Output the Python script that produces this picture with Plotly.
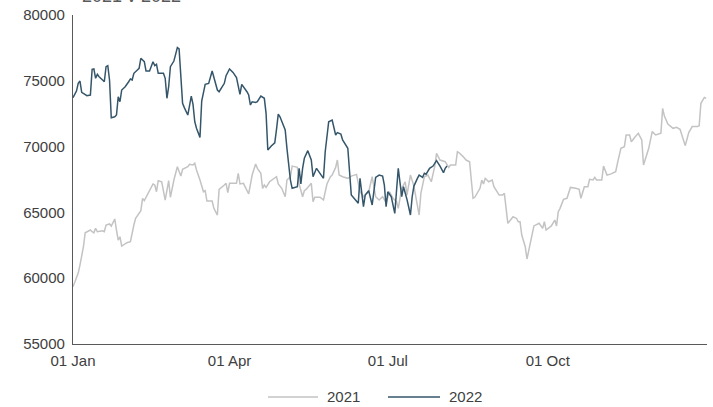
import pandas as pd
import plotly.graph_objects as go

# Day-of-year offsets (0 = 01 Jan) and values
days_2021 = [0, 3, 4, 6, 7, 10, 11, 12, 13, 14, 17, 18, 19, 21, 22, 24, 25, 26, 27, 28,
             31, 33, 35, 36, 39, 40, 41, 44, 46, 47, 48, 49, 51, 53, 55, 56, 58, 60, 62, 63,
             66, 67, 69, 70, 71, 73, 75, 76, 77, 80, 81, 83, 84, 87, 88, 89, 90, 94, 95, 96,
             98, 101, 103, 105, 106, 108, 109, 110, 111, 113, 117, 118, 120, 122, 123, 125, 126, 129, 130, 132,
             133, 134, 137, 138, 139, 142, 144, 146, 148, 149, 151, 152, 153, 155, 158, 160, 162, 163, 165, 167,
             169, 170, 172, 174, 176, 178, 180, 182, 184, 186, 187, 189, 191, 192, 194, 196, 199, 200, 202, 204,
             206, 208, 209, 211, 214, 216, 217, 220, 221, 222, 224, 226, 228, 229, 230, 231, 234, 235, 236, 237,
             239, 241, 242, 245, 247, 248, 250, 253, 255, 256, 257, 258, 260, 261, 263, 265, 268, 270, 271, 272,
             275, 277, 278, 279, 280, 282, 284, 286, 289, 291, 292, 294, 296, 297, 299, 300, 301, 304, 305, 307,
             309, 312, 313, 315, 317, 318, 320, 321, 323, 325, 327, 328, 331, 333, 335, 338, 339, 340, 342, 345,
             347, 349, 352, 354, 356, 359, 360, 361, 363, 364]
values_2021 = [59350, 60390, 61000, 62390, 63450, 63660, 63530, 63450, 63790, 63530, 63600, 63530, 64040, 64120, 63960, 64500, 63660, 62900, 63150, 62440,
               62700, 62770, 64040, 64550, 65130, 66070, 65890, 66700, 67160, 67080, 66570, 67410, 67330, 65940, 67410, 66150, 67460, 68470, 67760, 68270,
               68470, 68650, 68600, 68730, 68220, 67460, 66570, 66650, 65860, 65860, 65310, 64800, 66750, 67080, 67210, 66500, 67210, 67210, 67970, 67160,
               67210, 66400, 67840, 68680, 68350, 67970, 66830, 67080, 66900, 67330, 67710, 67160, 66830, 66190, 67460, 67710, 68520, 68420, 67160, 66190,
               66650, 66750, 67210, 65810, 66150, 66150, 65940, 67160, 67710, 67840, 68420, 68980, 67840, 67710, 67590, 67760, 67840, 67890, 66570, 66190,
               66450, 66570, 67710, 66190, 65940, 66190, 65740, 66570, 66070, 65810, 65310, 66830, 67330, 66320, 67840, 67000, 64800, 66450, 67710, 67840,
               67330, 68520, 69490, 68980, 68850, 68420, 68600, 68600, 69610, 69530, 69280, 68980, 68850, 67460, 66070, 66150, 66830, 67460, 67160, 67590,
               67330, 67460, 66950, 66320, 66320, 66450, 64170, 64670, 64540, 64290, 64290, 63280, 62390, 61460, 62650, 63970, 64170, 63790, 64290, 63660,
               63970, 64420, 63970, 65050, 65310, 65990, 66070, 66900, 66830, 66750, 66070, 66950, 66950, 67510, 67460, 67660, 67460, 67460, 68520, 67840,
               67910, 68090, 68730, 69870, 69990, 70880, 70880, 70370, 70710, 71010, 70500, 68600, 69870, 71140, 70880, 71010, 72910, 72320, 71720, 71390,
               71470, 71310, 70070, 71060, 71520, 71520, 71590, 73290, 73740, 73670]

days_2022 = [0, 2, 3, 4, 5, 7, 8, 10, 11, 12, 13, 14, 15, 17, 18, 19, 20, 21, 22, 24,
             25, 26, 27, 28, 30, 32, 33, 34, 35, 37, 38, 39, 41, 42, 44, 46, 47, 48, 49, 52,
             53, 54, 55, 56, 58, 59, 60, 61, 62, 63, 64, 66, 68, 69, 70, 71, 73, 74, 76, 78,
             80, 82, 83, 84, 87, 88, 90, 92, 94, 96, 97, 100, 101, 102, 103, 105, 106, 108, 110, 111,
             112, 114, 116, 117, 118, 119, 122, 123, 124, 125, 126, 129, 130, 131, 132, 133, 135, 137, 138, 140,
             144, 145, 147, 149, 151, 152, 154, 155, 158, 159, 160, 164, 165, 167, 168, 170, 171, 172, 174, 176,
             178, 179, 180, 181, 183, 185, 186, 187, 189, 190, 192, 194, 195, 196, 198, 199, 201, 202, 203, 205,
             207, 209, 211, 213, 214, 215]
values_2022 = [73720, 74220, 74810, 74980, 74120, 73920, 73870, 73920, 75870, 75900, 75190, 75490, 75310, 75060, 74930, 76070, 76150, 75060, 72190, 72270,
               72400, 73790, 73410, 74300, 74550, 74930, 75140, 75060, 75570, 75820, 75950, 76710, 76450, 75740, 75740, 76450, 76150, 76250, 75570, 75570,
               75190, 73670, 74550, 76070, 76500, 77010, 77520, 77420, 74810, 73290, 72960, 72400, 73840, 73210, 71890, 71390, 70700, 73460, 74730, 74800,
               75740, 74680, 74300, 74170, 74810, 75390, 75900, 75640, 75240, 73970, 74730, 74170, 73920, 73160, 73410, 73360, 73410, 73840, 73670, 72530,
               69740, 70040, 70290, 71310, 72470, 72270, 71260, 69870, 68600, 67460, 66830, 66950, 68350, 67160, 68350, 69110, 69690, 68980, 67710, 68350,
               67590, 69610, 71890, 72020, 70880, 71060, 70960, 70500, 69870, 67970, 66320, 65690, 67590, 65430, 66320, 66650, 66070, 65560, 67660, 67840,
               67760, 67080, 65430, 66570, 66190, 64930, 66650, 68350, 66190, 66950, 65990, 64800, 66190, 67000, 67590, 67840, 67660, 67970, 67900, 68350,
               68520, 68930, 68520, 68020, 68350, 68520]

series_names = ["2021", "2022"]
series_colors = ["#c3c3c3", "#35566a"]
tick_dates = ["2021-01-01", "2021-04-01", "2021-07-01", "2021-10-01"]
tick_labels = ["01 Jan", "01 Apr", "01 Jul", "01 Oct"]
base = pd.Timestamp("2021-01-01")
x2021 = [base + pd.Timedelta(days=d) for d in days_2021]
x2022 = [base + pd.Timedelta(days=d) for d in days_2022]

FONT = "Liberation Sans, Arial, sans-serif"
fig = go.Figure()
for name, xs, ys, col in zip(series_names, [x2021, x2022], [values_2021, values_2022], series_colors):
    fig.add_trace(go.Scatter(x=xs, y=ys, mode="lines", name=name,
                             line=dict(color=col, width=1.5), showlegend=False))

# custom legend (longer line samples as in the reference)
legend_y = -0.161
legend_items = [(0.3076, 0.3864, 0.3975), (0.4968, 0.5789, 0.5899)]
shapes = []
annotations = [dict(text="2021 v 2022", xref="paper", yref="paper", x=0.011, y=1.022,
                    xanchor="left", yanchor="bottom", showarrow=False,
                    font=dict(size=18, color="#595959"))]
for (x0, x1, xt), name, col in zip(legend_items, series_names, series_colors):
    shapes.append(dict(type="line", xref="paper", yref="paper", x0=x0, x1=x1,
                       y0=legend_y, y1=legend_y, line=dict(color=col, width=1.5)))
    annotations.append(dict(text=name, xref="paper", yref="paper", x=xt, y=legend_y,
                            xanchor="left", yanchor="middle", showarrow=False,
                            font=dict(size=15, color="#404040")))

fig.update_layout(
    width=713, height=407,
    margin=dict(l=73, r=6, t=15, b=63, autoexpand=False),
    paper_bgcolor="white", plot_bgcolor="white",
    font=dict(family=FONT, size=15, color="#404040"),
    showlegend=False,
    shapes=shapes,
    annotations=annotations,
)
fig.update_xaxes(range=["2021-01-01", "2021-12-31 12:00"], showgrid=False, zeroline=False,
                 showline=True, linecolor="#595959", linewidth=1.3, automargin=False,
                 tickvals=tick_dates, ticktext=tick_labels, ticks="", ticklabelstandoff=3)
fig.update_yaxes(range=[55000, 80000], dtick=5000, tickformat="d", showgrid=False, zeroline=False,
                 showline=True, linecolor="#595959", linewidth=1.3, automargin=False,
                 ticks="", ticklabelstandoff=4)

fig.write_html("out.html")
